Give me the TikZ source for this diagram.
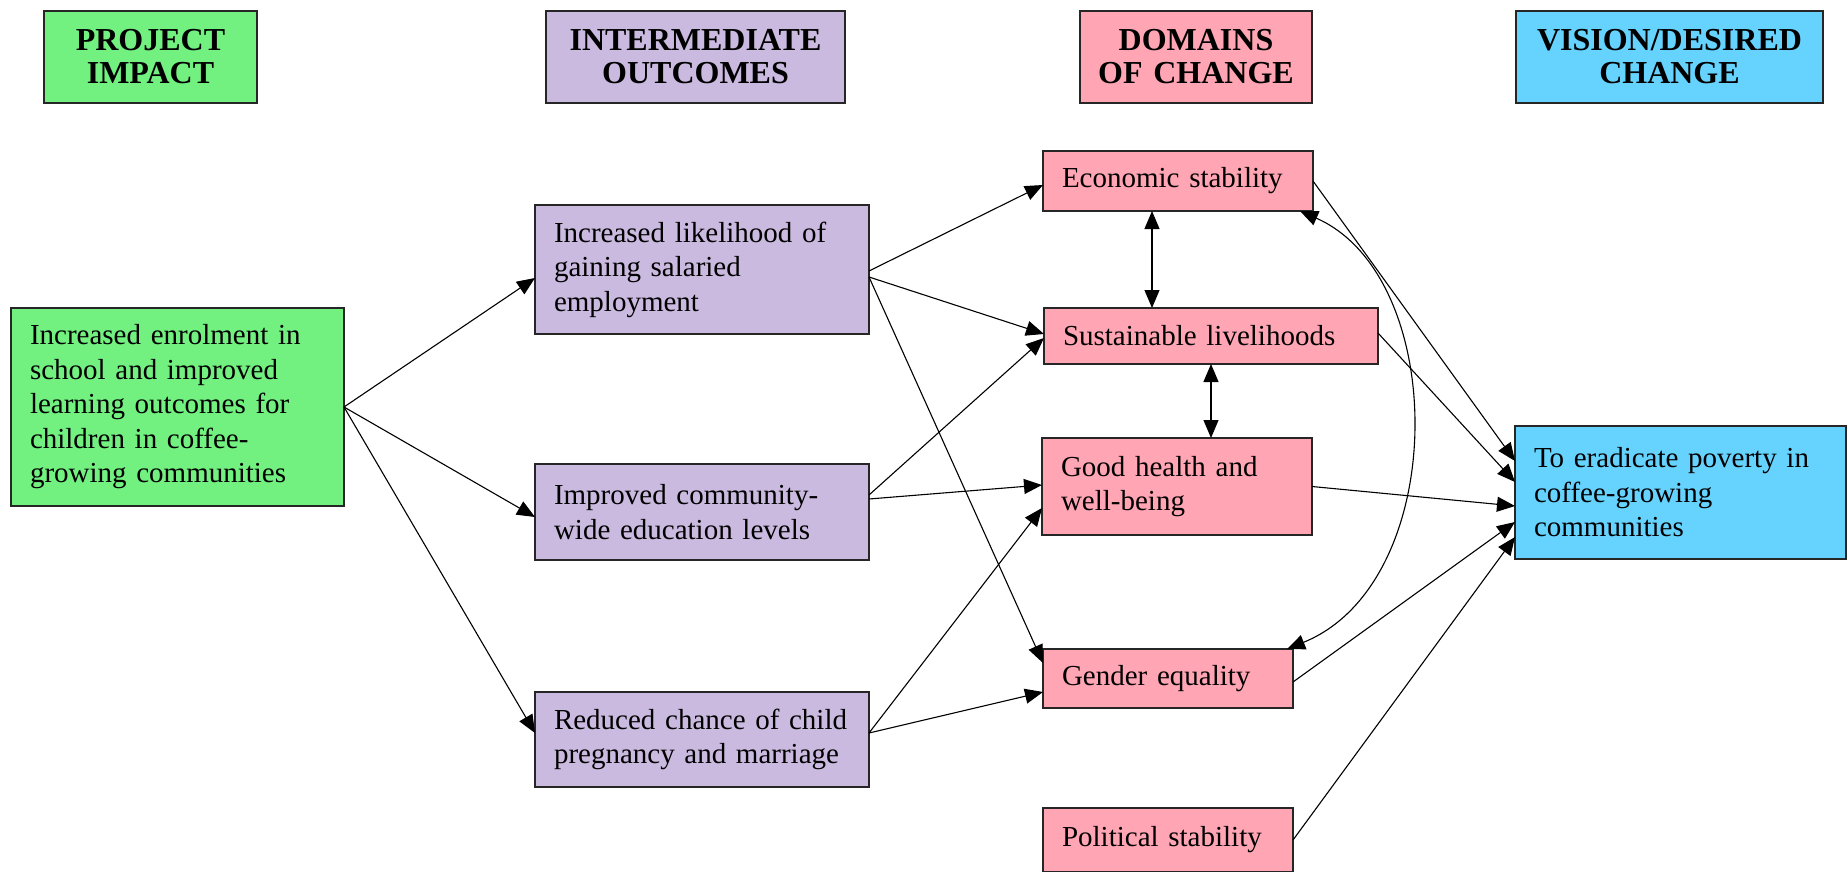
\documentclass[tikz,border=0pt]{standalone}
\usepackage{fontspec}
\setmainfont{Liberation Serif}
\usetikzlibrary{arrows.meta,calc}
\definecolor{cgreen}{RGB}{114,240,128}
\definecolor{cpurple}{RGB}{203,186,224}
\definecolor{cpink}{RGB}{255,165,180}
\definecolor{ccyan}{RGB}{102,211,255}
\newcommand\bodyfnt{\fontsize{29}{34.5}\selectfont}
\newcommand\headfnt{\fontsize{32}{33}\selectfont\bfseries}
\begin{document}
\begin{tikzpicture}[x=1pt,y=1pt,
  box/.style={draw=black!85,line width=1.2pt,anchor=north west,inner ysep=0pt,outer sep=0pt},
  body/.style={box,inner xsep=19pt,align=left,font=\bodyfnt},
  head/.style={box,inner xsep=5pt,align=center,font=\headfnt,minimum height=92pt},
  arr/.style={line width=1.1pt,-{Triangle[length=18pt,width=15pt]}},
  darr/.style={line width=1.1pt,{Triangle[length=18pt,width=15pt]}-{Triangle[length=18pt,width=15pt]}}]
\useasboundingbox (0,0) rectangle (1848,-872);

% headers
\node[head,fill=cgreen,text width=203pt] (h1) at (44,-11) {PROJECT\\IMPACT};
\node[head,fill=cpurple,text width=289pt] (h2) at (546,-11) {INTERMEDIATE\\OUTCOMES};
\node[head,fill=cpink,text width=222pt] (h3) at (1080,-11) {DOMAINS\\OF CHANGE};
\node[head,fill=ccyan,text width=297pt] (h4) at (1516,-11) {VISION/DESIRED\\CHANGE};

% impact
\node[body,fill=cgreen,text width=295pt,minimum height=198pt] (g) at (11,-308)
  {Increased enrolment in\\school and improved\\learning outcomes for\\children in coffee-\\growing communities};

% intermediate outcomes
\node[body,fill=cpurple,text width=296pt,minimum height=129pt] (p1) at (535,-205)
  {Increased likelihood of\\gaining salaried\\employment};
\node[body,fill=cpurple,text width=296pt,minimum height=96pt] (p2) at (535,-464)
  {Improved community-\\wide education levels};
\node[body,fill=cpurple,text width=296pt,minimum height=95pt] (p3) at (535,-692)
  {Reduced chance of child\\pregnancy and marriage};

% domains
\node[body,fill=cpink,text width=232pt,minimum height=60pt] (d1) at (1043,-151) {Economic stability};
\node[body,fill=cpink,text width=296pt,minimum height=56pt] (d2) at (1044,-308) {Sustainable livelihoods};
\node[body,fill=cpink,text width=232pt,minimum height=97pt] (d3) at (1042,-438) {Good health and\\well-being};
\node[body,fill=cpink,text width=212pt,minimum height=59pt] (d4) at (1043,-649) {Gender equality};
\node[body,fill=cpink,text width=212pt,minimum height=64pt] (d5) at (1043,-808) {Political stability};

% vision
\node[body,fill=ccyan,text width=293pt,minimum height=133pt] (v) at (1515,-426)
  {To eradicate poverty in\\coffee-growing\\communities};

% impact -> outcomes
\draw[arr] (g.east) -- ([yshift=-8.5pt]p1.west);
\draw[arr] (g.east) -- ([yshift=-5pt]p2.west);
\draw[arr] (g.east) -- ([yshift=6.5pt]p3.west);

% outcomes -> domains
\draw[arr] ([yshift=-1.5pt]p1.east) -- ([yshift=-4pt]d1.west);
\draw[arr] ([yshift=-7.5pt]p1.east) -- ([yshift=2pt]d2.west);
\draw[arr] ([yshift=-7.5pt]p1.east) -- ([yshift=15.5pt]d4.west);
\draw[arr] ([yshift=17pt]p2.east) -- ([yshift=-2pt]d2.west);
\draw[arr] ([yshift=13pt]p2.east) -- ([yshift=1.5pt]d3.west);
\draw[arr] ([yshift=6.5pt]p3.east) -- ([yshift=-21.5pt]d3.west);
\draw[arr] ([yshift=6.5pt]p3.east) -- ([yshift=-13.5pt]d4.west);

% links between domains
\draw[darr] ([xshift=-26pt]d1.south) -- ([xshift=-26pt]d1.south |- d2.north);
\draw[darr] (d2.south) -- (d2.south |- d3.north);
\draw[darr] ([xshift=-6pt]d4.north east) .. controls (1450,-583) and (1450,-277) .. ([xshift=-13pt]d1.south east);

% domains -> vision
\draw[arr] (d1.east) -- ([yshift=31.5pt]v.west);
\draw[arr] ([yshift=3pt]d2.east) -- ([yshift=10.5pt]v.west);
\draw[arr] (d3.east) -- ([yshift=-13.5pt]v.west);
\draw[arr] ([yshift=-3.5pt]d4.east) -- ([yshift=-29.5pt]v.west);
\draw[arr] (d5.east) -- ([yshift=-44.5pt]v.west);
\end{tikzpicture}
\end{document}
